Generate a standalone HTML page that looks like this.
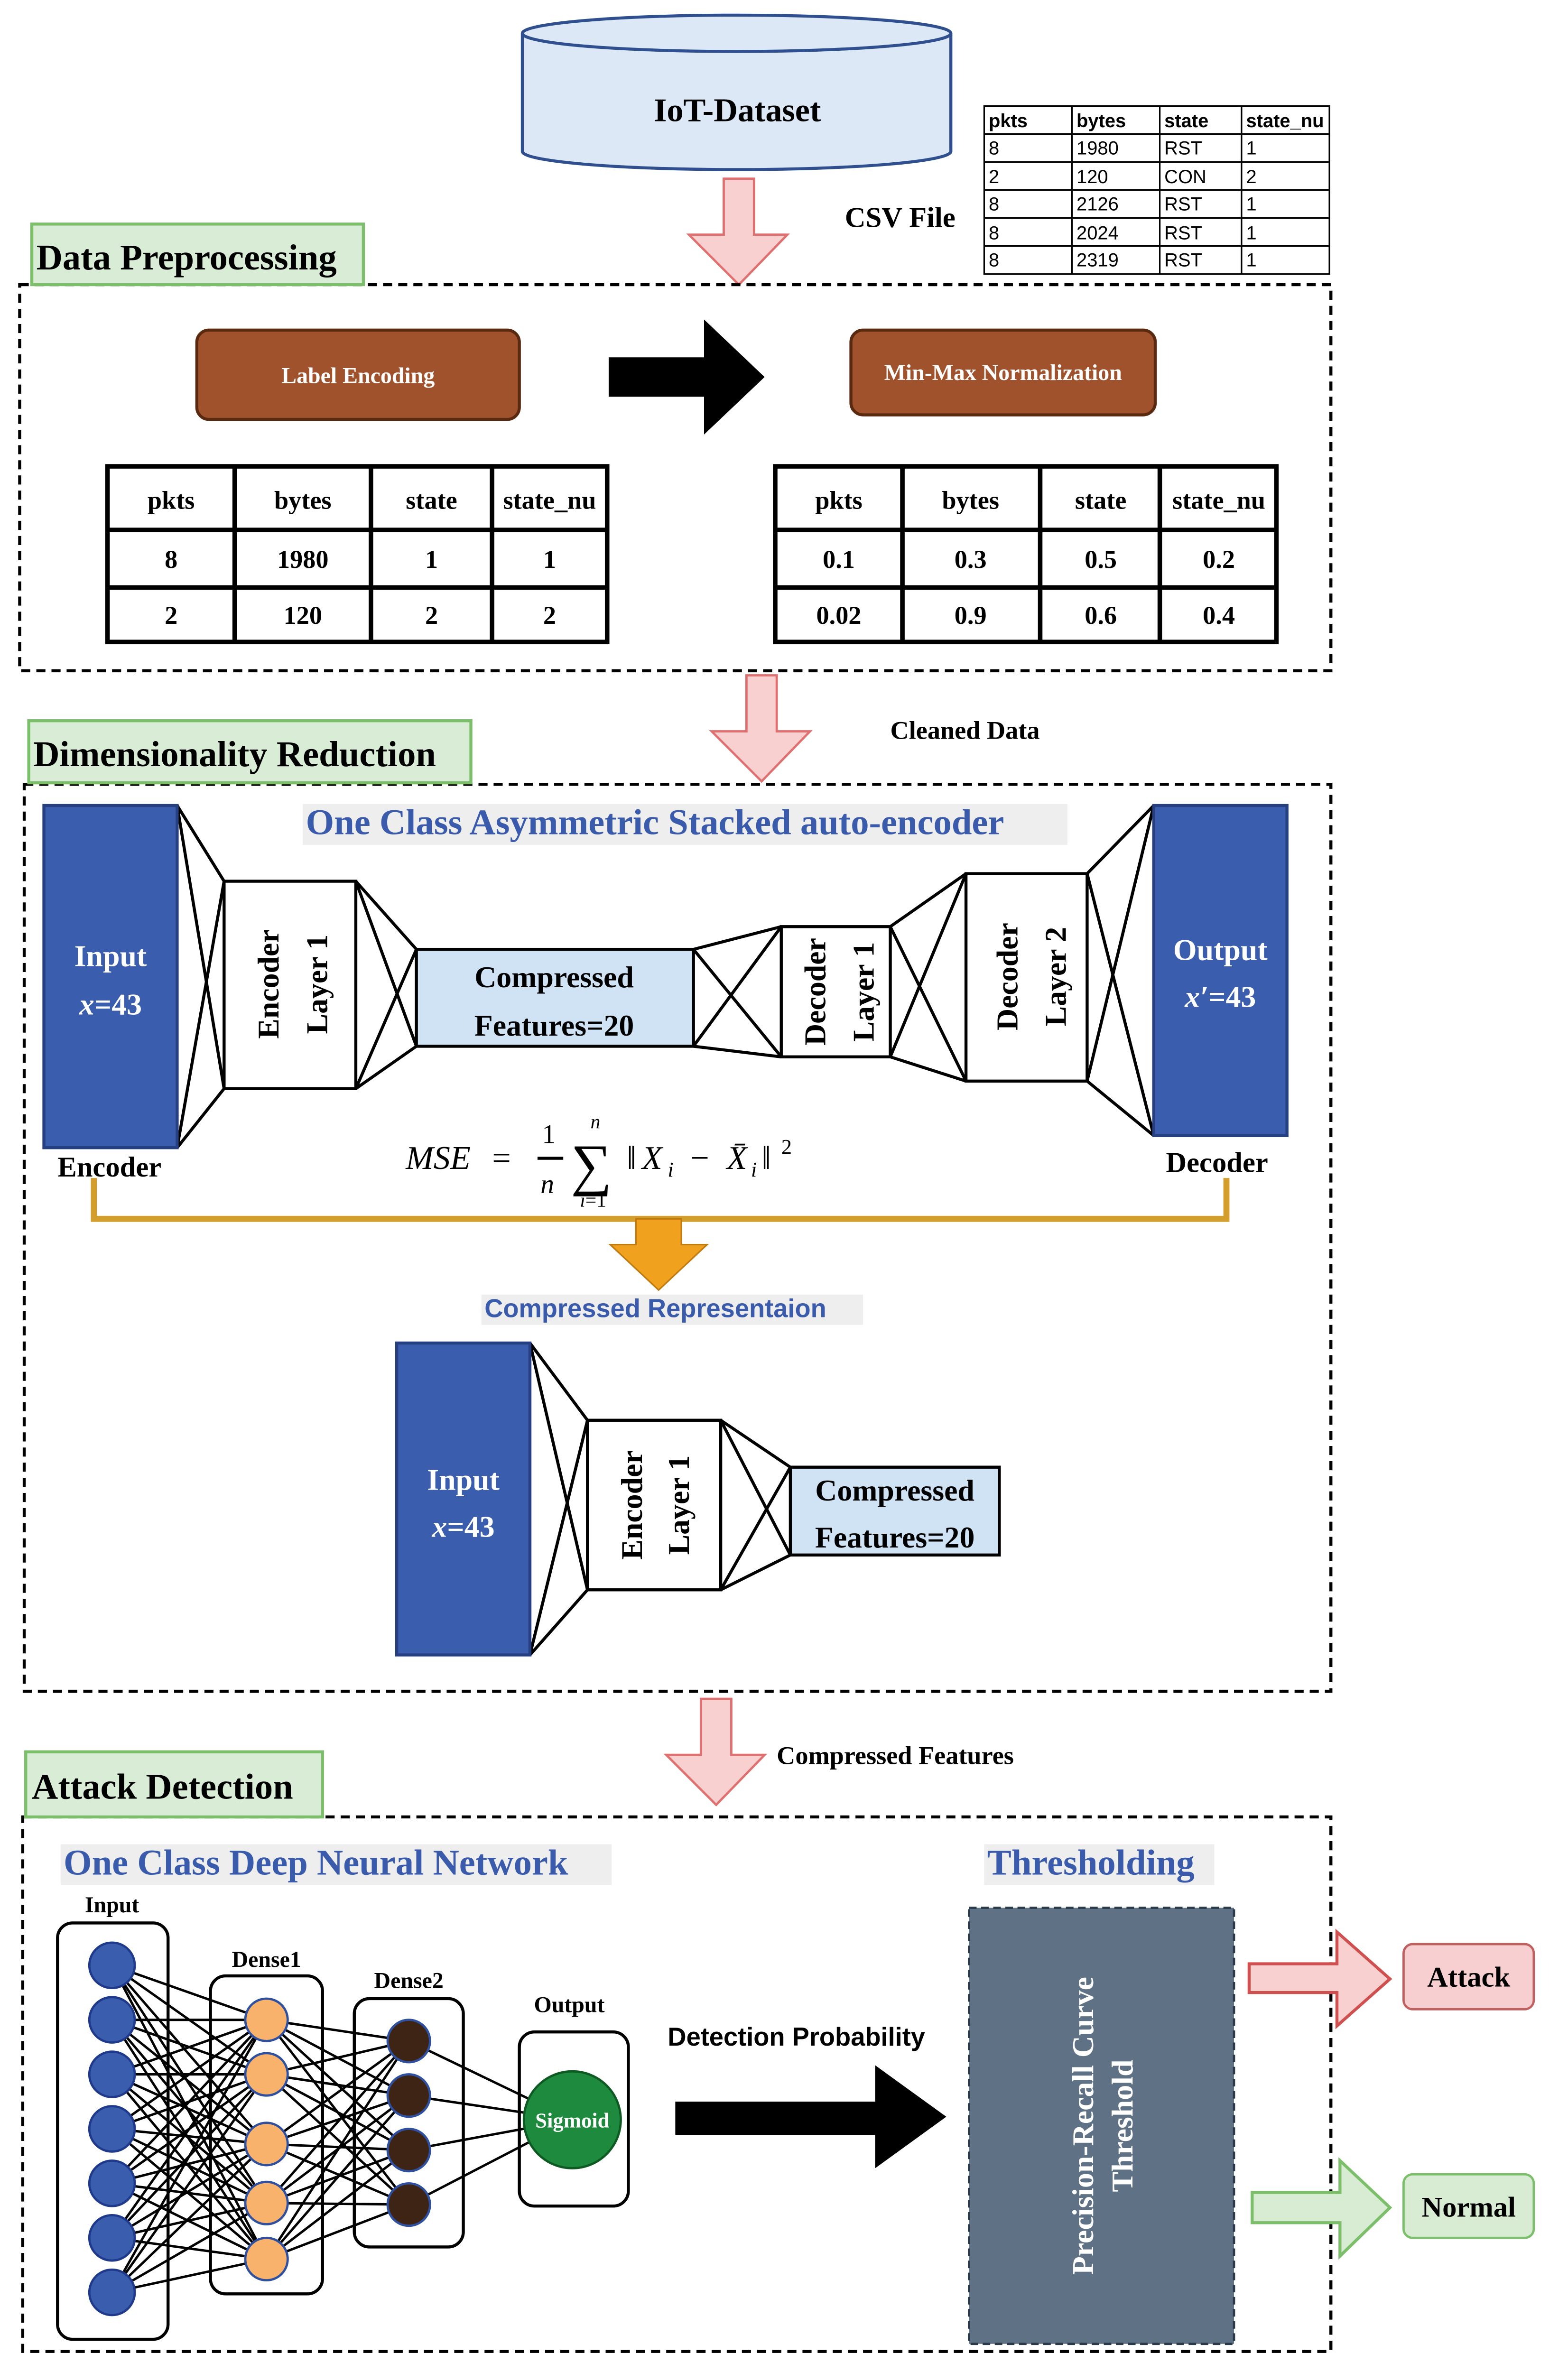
<!DOCTYPE html>
<html><head><meta charset="utf-8"><style>
html,body{margin:0;padding:0;background:#fff;width:3305px;height:5046px;overflow:hidden}
svg{display:block}
.s{font-family:"Liberation Serif",serif;font-weight:bold}
.a{font-family:"Liberation Sans",sans-serif}
</style></head><body>
<svg width="3305" height="5046" viewBox="0 0 1035.6 1581" preserveAspectRatio="none" xmlns="http://www.w3.org/2000/svg">
<defs>
<g id="parrow"><path d="M23 0 H43 V37 H65 L33 70 L0 37 H23 Z" fill="#f8d0d0" stroke="#e07070" stroke-width="1.5"/></g>
</defs>
<rect width="1036" height="1581" fill="#fff"/>
<path d="M345 22 V100 A141.5 12 0 0 0 628 100 V22" fill="#dce8f5" stroke="#2f4f8f" stroke-width="2"/>
<ellipse cx="486.5" cy="22" rx="141.5" ry="12" fill="#dce8f5" stroke="#2f4f8f" stroke-width="2"/>
<text x="487" y="80" class="s" font-size="22" text-anchor="middle">IoT-Dataset</text>
<g class="a" font-size="12.5" stroke="none">
<g stroke="#000" stroke-width="1" fill="none">
<rect x="650" y="70" width="228" height="111"/>
<line x1="708" y1="70" x2="708" y2="181"/><line x1="766" y1="70" x2="766" y2="181"/><line x1="820" y1="70" x2="820" y2="181"/>
<line x1="650" y1="88.5" x2="878" y2="88.5"/><line x1="650" y1="107" x2="878" y2="107"/><line x1="650" y1="125.5" x2="878" y2="125.5"/><line x1="650" y1="144" x2="878" y2="144"/><line x1="650" y1="162.5" x2="878" y2="162.5"/>
</g>
<g font-weight="bold"><text x="653" y="84">pkts</text><text x="711" y="84">bytes</text><text x="769" y="84">state</text><text x="823" y="84">state_nu</text></g>
<text x="653" y="102">8</text><text x="711" y="102">1980</text><text x="769" y="102">RST</text><text x="823" y="102">1</text>
<text x="653" y="121">2</text><text x="711" y="121">120</text><text x="769" y="121">CON</text><text x="823" y="121">2</text>
<text x="653" y="139">8</text><text x="711" y="139">2126</text><text x="769" y="139">RST</text><text x="823" y="139">1</text>
<text x="653" y="158">8</text><text x="711" y="158">2024</text><text x="769" y="158">RST</text><text x="823" y="158">1</text>
<text x="653" y="176">8</text><text x="711" y="176">2319</text><text x="769" y="176">RST</text><text x="823" y="176">1</text>
</g>
<text x="558" y="150" class="s" font-size="19">CSV File</text>
<use href="#parrow" x="455" y="118"/>
<rect x="13" y="188" width="866" height="255" fill="none" stroke="#000" stroke-width="2" stroke-dasharray="6,4"/>
<rect x="21" y="148" width="219" height="40" fill="#d9ecd5" stroke="#7cbf6a" stroke-width="2"/>
<text x="24" y="178" class="s" font-size="24">Data Preprocessing</text>
<rect x="130" y="218" width="213" height="59" rx="8" fill="#a0522d" stroke="#5a2a10" stroke-width="2"/>
<text x="236.5" y="253" class="s" font-size="15" fill="#fff" text-anchor="middle">Label Encoding</text>
<path d="M402 236 H465 V211 L505 249 L465 287 V262 H402 Z" fill="#000"/>
<rect x="562" y="218" width="201" height="56" rx="8" fill="#a0522d" stroke="#5a2a10" stroke-width="2"/>
<text x="662.5" y="251" class="s" font-size="15" fill="#fff" text-anchor="middle">Min-Max Normalization</text>
<g stroke="#000" stroke-width="3" fill="none">
<rect x="71" y="308" width="330" height="116"/>
<line x1="155" y1="308" x2="155" y2="424"/><line x1="245" y1="308" x2="245" y2="424"/><line x1="325" y1="308" x2="325" y2="424"/>
<line x1="71" y1="350" x2="401" y2="350"/><line x1="71" y1="388" x2="401" y2="388"/>
<rect x="512" y="308" width="331" height="116"/>
<line x1="596" y1="308" x2="596" y2="424"/><line x1="687" y1="308" x2="687" y2="424"/><line x1="766" y1="308" x2="766" y2="424"/>
<line x1="512" y1="350" x2="843" y2="350"/><line x1="512" y1="388" x2="843" y2="388"/>
</g>
<g font-family="Liberation Serif,serif" font-weight="bold" font-size="17" text-anchor="middle">
<text x="113" y="336">pkts</text><text x="200" y="336">bytes</text><text x="285" y="336">state</text><text x="363" y="336">state_nu</text>
<text x="113" y="375">8</text><text x="200" y="375">1980</text><text x="285" y="375">1</text><text x="363" y="375">1</text>
<text x="113" y="412">2</text><text x="200" y="412">120</text><text x="285" y="412">2</text><text x="363" y="412">2</text>
<text x="554" y="336">pkts</text><text x="641" y="336">bytes</text><text x="727" y="336">state</text><text x="805" y="336">state_nu</text>
<text x="554" y="375">0.1</text><text x="641" y="375">0.3</text><text x="727" y="375">0.5</text><text x="805" y="375">0.2</text>
<text x="554" y="412">0.02</text><text x="641" y="412">0.9</text><text x="727" y="412">0.6</text><text x="805" y="412">0.4</text>
</g>
<use href="#parrow" x="470" y="446"/>
<text x="588" y="488" class="s" font-size="17">Cleaned Data</text>
<rect x="16" y="518" width="863" height="599" fill="none" stroke="#000" stroke-width="2" stroke-dasharray="6,4"/>
<rect x="19" y="476" width="292" height="41" fill="#d9ecd5" stroke="#7cbf6a" stroke-width="2"/>
<text x="22" y="506" class="s" font-size="24">Dimensionality Reduction</text>
<rect x="200" y="531" width="505" height="27" fill="#eeeeee"/>
<text x="202" y="551" class="s" font-size="24" fill="#3a5bab">One Class Asymmetric Stacked auto-encoder</text>
<g stroke="#000" stroke-width="2" fill="none">
<path d="M117 532 L148 582 M117 758 L148 719 M117 532 L148 719 M117 758 L148 582"/>
<path d="M235 582 L275 627 M235 719 L275 691 M235 582 L275 691 M235 719 L275 627"/>
<path d="M458 627 L516 612 M458 691 L516 698 M458 627 L516 698 M458 691 L516 612"/>
<path d="M588 612 L638 577 M588 698 L638 714 M588 612 L638 714 M588 698 L638 577"/>
<path d="M718 577 L762 532 M718 714 L762 750 M718 577 L762 750 M718 714 L762 532"/>
</g>
<rect x="29" y="532" width="88" height="226" fill="#3a5dae" stroke="#263f80" stroke-width="2"/>
<text x="73" y="638" class="s" font-size="20" fill="#fff" text-anchor="middle">Input</text>
<text x="73" y="670" class="s" font-size="20" fill="#fff" text-anchor="middle"><tspan font-style="italic">x</tspan>=43</text>
<rect x="148" y="582" width="87" height="137" fill="#fff" stroke="#000" stroke-width="2"/>
<text transform="translate(184,650) rotate(-90)" class="s" font-size="20" text-anchor="middle">Encoder</text>
<text transform="translate(216,650) rotate(-90)" class="s" font-size="20" text-anchor="middle">Layer 1</text>
<rect x="275" y="627" width="183" height="64" fill="#cfe3f5" stroke="#000" stroke-width="2"/>
<text x="366" y="652" class="s" font-size="20" text-anchor="middle">Compressed</text>
<text x="366" y="684" class="s" font-size="20" text-anchor="middle">Features=20</text>
<rect x="516" y="612" width="72" height="86" fill="#fff" stroke="#000" stroke-width="2"/>
<text transform="translate(545,655) rotate(-90)" class="s" font-size="20" text-anchor="middle">Decoder</text>
<text transform="translate(577,655) rotate(-90)" class="s" font-size="20" text-anchor="middle">Layer 1</text>
<rect x="638" y="577" width="80" height="137" fill="#fff" stroke="#000" stroke-width="2"/>
<text transform="translate(672,645) rotate(-90)" class="s" font-size="20" text-anchor="middle">Decoder</text>
<text transform="translate(704,645) rotate(-90)" class="s" font-size="20" text-anchor="middle">Layer 2</text>
<rect x="762" y="532" width="88" height="218" fill="#3a5dae" stroke="#263f80" stroke-width="2"/>
<text x="806" y="634" class="s" font-size="20" fill="#fff" text-anchor="middle">Output</text>
<text x="806" y="665" class="s" font-size="20" fill="#fff" text-anchor="middle"><tspan font-style="italic">x′</tspan>=43</text>
<text x="38" y="777" class="s" font-size="19">Encoder</text>
<text x="770" y="774" class="s" font-size="19">Decoder</text>
<g font-family="Liberation Serif,serif" font-style="italic" font-size="22">
<text x="268" y="772">MSE</text>
<text x="325" y="772" font-style="normal">=</text>
<text x="358" y="755" font-style="normal" font-size="18">1</text>
<line x1="355" y1="765" x2="372" y2="765" stroke="#000" stroke-width="2"/>
<text x="357" y="788" font-size="18">n</text>
<text x="377" y="782" font-style="normal" font-size="38">∑</text>
<text x="390" y="745" font-size="13">n</text>
<text x="383" y="797" font-size="13">i<tspan font-style="normal">=1</tspan></text>
<text x="414" y="772" font-style="normal">‖</text>
<text x="424" y="772">X</text>
<text x="441" y="777" font-size="14">i</text>
<text x="456" y="772" font-style="normal">−</text>
<text x="480" y="772">X̄</text>
<text x="496" y="777" font-size="14">i</text>
<text x="503" y="772" font-style="normal">‖</text>
<text x="516" y="762" font-style="normal" font-size="14">2</text>
</g>
<path d="M62 778 V805 H810 V778" fill="none" stroke="#d49e2c" stroke-width="4"/>
<path d="M420 805 H450 V822 H467 L435 852 L403 822 H420 Z" fill="#f0a21e" stroke="#c07a10" stroke-width="1"/>
<rect x="318" y="855" width="252" height="20" fill="#eeeeee"/>
<text x="320" y="870" class="a" font-weight="bold" font-size="17" fill="#3a5bab">Compressed Representaion</text>
<g stroke="#000" stroke-width="2" fill="none">
<path d="M350 887 L388 938 M350 1093 L388 1050 M350 887 L388 1050 M350 1093 L388 938"/>
<path d="M476 938 L522 969 M476 1050 L522 1027 M476 938 L522 1027 M476 1050 L522 969"/>
</g>
<rect x="262" y="887" width="88" height="206" fill="#3a5dae" stroke="#263f80" stroke-width="2"/>
<text x="306" y="984" class="s" font-size="20" fill="#fff" text-anchor="middle">Input</text>
<text x="306" y="1015" class="s" font-size="20" fill="#fff" text-anchor="middle"><tspan font-style="italic">x</tspan>=43</text>
<rect x="388" y="938" width="88" height="112" fill="#fff" stroke="#000" stroke-width="2"/>
<text transform="translate(424,994) rotate(-90)" class="s" font-size="20" text-anchor="middle">Encoder</text>
<text transform="translate(455,994) rotate(-90)" class="s" font-size="20" text-anchor="middle">Layer 1</text>
<rect x="522" y="969" width="138" height="58" fill="#cfe3f5" stroke="#000" stroke-width="2"/>
<text x="591" y="991" class="s" font-size="20" text-anchor="middle">Compressed</text>
<text x="591" y="1022" class="s" font-size="20" text-anchor="middle">Features=20</text>
<use href="#parrow" x="440" y="1122"/>
<text x="513" y="1165" class="s" font-size="17">Compressed Features</text>
<rect x="15" y="1200" width="864" height="353" fill="none" stroke="#000" stroke-width="2" stroke-dasharray="6,4"/>
<rect x="17" y="1157" width="196" height="43" fill="#d9ecd5" stroke="#7cbf6a" stroke-width="2"/>
<text x="21" y="1188" class="s" font-size="24">Attack Detection</text>
<rect x="40" y="1218" width="364" height="27" fill="#eeeeee"/>
<text x="42" y="1238" class="s" font-size="24" fill="#3a5bab">One Class Deep Neural Network</text>
<rect x="650" y="1218" width="152" height="27" fill="#eeeeee"/>
<text x="652" y="1238" class="s" font-size="24" fill="#3a5bab">Thresholding</text>
<rect x="38" y="1270" width="73" height="275" rx="10" fill="#fff" stroke="#000" stroke-width="2"/>
<rect x="139" y="1305" width="74" height="210" rx="10" fill="#fff" stroke="#000" stroke-width="2"/>
<rect x="234" y="1320" width="72" height="164" rx="10" fill="#fff" stroke="#000" stroke-width="2"/>
<rect x="343" y="1342" width="72" height="115" rx="10" fill="#fff" stroke="#000" stroke-width="2"/>
<text x="74" y="1263" class="s" font-size="15" text-anchor="middle">Input</text>
<text x="176" y="1299" class="s" font-size="15" text-anchor="middle">Dense1</text>
<text x="270" y="1313" class="s" font-size="15" text-anchor="middle">Dense2</text>
<text x="376" y="1329" class="s" font-size="15" text-anchor="middle">Output</text>
<g stroke="#000" stroke-width="1.6">
<path d="M74 1298 L176 1334 M74 1298 L176 1370 M74 1298 L176 1416 M74 1298 L176 1455 M74 1298 L176 1492
M74 1334 L176 1334 M74 1334 L176 1370 M74 1334 L176 1416 M74 1334 L176 1455 M74 1334 L176 1492
M74 1370 L176 1334 M74 1370 L176 1370 M74 1370 L176 1416 M74 1370 L176 1455 M74 1370 L176 1492
M74 1406 L176 1334 M74 1406 L176 1370 M74 1406 L176 1416 M74 1406 L176 1455 M74 1406 L176 1492
M74 1442 L176 1334 M74 1442 L176 1370 M74 1442 L176 1416 M74 1442 L176 1455 M74 1442 L176 1492
M74 1478 L176 1334 M74 1478 L176 1370 M74 1478 L176 1416 M74 1478 L176 1455 M74 1478 L176 1492
M74 1514 L176 1334 M74 1514 L176 1370 M74 1514 L176 1416 M74 1514 L176 1455 M74 1514 L176 1492"/>
<path d="M176 1334 L270 1348 M176 1334 L270 1384 M176 1334 L270 1420 M176 1334 L270 1456
M176 1370 L270 1348 M176 1370 L270 1384 M176 1370 L270 1420 M176 1370 L270 1456
M176 1416 L270 1348 M176 1416 L270 1384 M176 1416 L270 1420 M176 1416 L270 1456
M176 1455 L270 1348 M176 1455 L270 1384 M176 1455 L270 1420 M176 1455 L270 1456
M176 1492 L270 1348 M176 1492 L270 1384 M176 1492 L270 1420 M176 1492 L270 1456"/>
<path d="M270 1348 L378 1400 M270 1384 L378 1400 M270 1420 L378 1400 M270 1456 L378 1400"/>
</g>
<g fill="#3a5dae" stroke="#1f3a8a" stroke-width="1.5">
<circle cx="74" cy="1298" r="15"/><circle cx="74" cy="1334" r="15"/><circle cx="74" cy="1370" r="15"/><circle cx="74" cy="1406" r="15"/><circle cx="74" cy="1442" r="15"/><circle cx="74" cy="1478" r="15"/><circle cx="74" cy="1514" r="15"/>
</g>
<g fill="#f9b26b" stroke="#2f4f9f" stroke-width="1.5">
<circle cx="176" cy="1334" r="14"/><circle cx="176" cy="1370" r="14"/><circle cx="176" cy="1416" r="14"/><circle cx="176" cy="1455" r="14"/><circle cx="176" cy="1492" r="14"/>
</g>
<g fill="#3d2414" stroke="#2f4f9f" stroke-width="1.5">
<circle cx="270" cy="1348" r="14"/><circle cx="270" cy="1384" r="14"/><circle cx="270" cy="1420" r="14"/><circle cx="270" cy="1456" r="14"/>
</g>
<circle cx="378" cy="1400" r="32" fill="#1e8a3e" stroke="#0d5a22" stroke-width="1.5"/>
<text x="378" y="1405" class="s" font-size="14" fill="#fff" text-anchor="middle">Sigmoid</text>
<text x="441" y="1351" class="a" font-weight="bold" font-size="17">Detection Probability</text>
<path d="M446 1388 H578 V1364 L625 1398 L578 1432 V1410 H446 Z" fill="#000"/>
<rect x="640" y="1260" width="175" height="288" fill="#5f7185" stroke="#2a3a4a" stroke-width="1.5" stroke-dasharray="5,3"/>
<text transform="translate(722,1404) rotate(-90)" class="s" font-size="20" fill="#fff" text-anchor="middle">Precision-Recall Curve</text>
<text transform="translate(748,1404) rotate(-90)" class="s" font-size="20" fill="#fff" text-anchor="middle">Threshold</text>
<path d="M825 1297 H883 V1276 L918 1307 L883 1338 V1316 H825 Z" fill="#f8d0d0" stroke="#d05050" stroke-width="2"/>
<rect x="927" y="1284" width="86" height="43" rx="6" fill="#f8cfd0" stroke="#c06060" stroke-width="1.5"/>
<text x="970" y="1312" class="s" font-size="19" text-anchor="middle">Attack</text>
<path d="M827 1448 H885 V1427 L918 1458 L885 1490 V1468 H827 Z" fill="#d8ecd4" stroke="#7cbf6a" stroke-width="2"/>
<rect x="927" y="1436" width="86" height="42" rx="6" fill="#d8ecd4" stroke="#7cbf6a" stroke-width="1.5"/>
<text x="970" y="1464" class="s" font-size="19" text-anchor="middle">Normal</text>
</svg>
</body></html>
